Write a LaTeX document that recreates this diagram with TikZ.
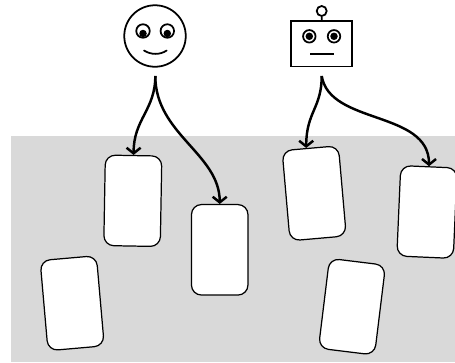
\documentclass[tikz,border=0pt]{standalone}
\usepackage{tikz}
\usepackage{xcolor}
\usetikzlibrary{arrows.meta,positioning,calc}
\definecolor{floorgray}{RGB}{217,217,217}
\tikzset{
  card/.style={draw=black,line width=0.7pt,fill=white,rounded corners=0.2cm,minimum width=1.13cm,minimum height=1.81cm,inner sep=0pt},
  facepart/.style={draw=black,line width=1pt,fill=white,circle,inner sep=0pt},
  pupil/.style={fill=black,circle,inner sep=0pt,minimum size=0.15cm},
  link/.style={line width=1.4pt,-{Straight Barb[length=3.2pt,width=8pt]}}
}
\begin{document}
\begin{tikzpicture}[x=0.02cm,y=-0.02cm]
  \useasboundingbox (0,0) rectangle (455,362);
  \fill[floorgray] (11,136) rectangle (455,362);
  % cards
  \node[card,rotate=-1] (cardA) at (132.8,200.8) {};
  \node[card] (cardB) at (219.7,249.8) {};
  \node[card,rotate=5] (cardC) at (72.2,303.2) {};
  \node[card,rotate=5] (cardD) at (314.2,193.3) {};
  \node[card,rotate=-2.5] (cardE) at (427,212) {};
  \node[card,rotate=-7] (cardF) at (352,306.7) {};
  % human
  \node[facepart,minimum size=1.23cm] (human) at (155,36) {};
  \node[facepart,minimum size=0.27cm] (humanEyeL) at (143,31) {};
  \node[facepart,minimum size=0.27cm] (humanEyeR) at (167.3,31) {};
  \node[pupil] (humanPupilL) at (143,33.5) {};
  \node[pupil] (humanPupilR) at (167.3,33.5) {};
  \draw[line width=1pt,line cap=round] (144,50.5) .. controls (151,55) and (160,55) .. (166.7,50.5);
  % robot
  \node[facepart,rectangle,minimum width=1.22cm,minimum height=0.91cm] (robot) at (321.8,43.8) {};
  \node[facepart,minimum size=0.2cm] (robotTop) at (321.7,11) {};
  \draw[line width=1pt] (robotTop) -- (robot);
  \node[facepart,minimum size=0.25cm] (robotEyeL) at (309.3,36.3) {};
  \node[facepart,minimum size=0.25cm] (robotEyeR) at (334,36.3) {};
  \node[pupil] (robotPupilL) at (309.3,36.3) {};
  \node[pupil] (robotPupilR) at (334,36.3) {};
  \draw[line width=1pt] (310,54.3) -- (334,54.3);
  % links
  \coordinate (humanFoot) at (155.3,76);
  \coordinate (robotFoot) at (321.7,76);
  \draw[link] (humanFoot) .. controls +(0,34) and +(0,-36) .. (cardA.north);
  \draw[link] (humanFoot) .. controls +(0,58) and +(0,-50) .. (cardB.north);
  \draw[link] (robotFoot) .. controls +(0,32) and +(0,-36) .. (cardD.95);
  \draw[link] (robotFoot) .. controls +(8,49) and +(0,-56) .. (cardE.north);
\end{tikzpicture}
\end{document}
